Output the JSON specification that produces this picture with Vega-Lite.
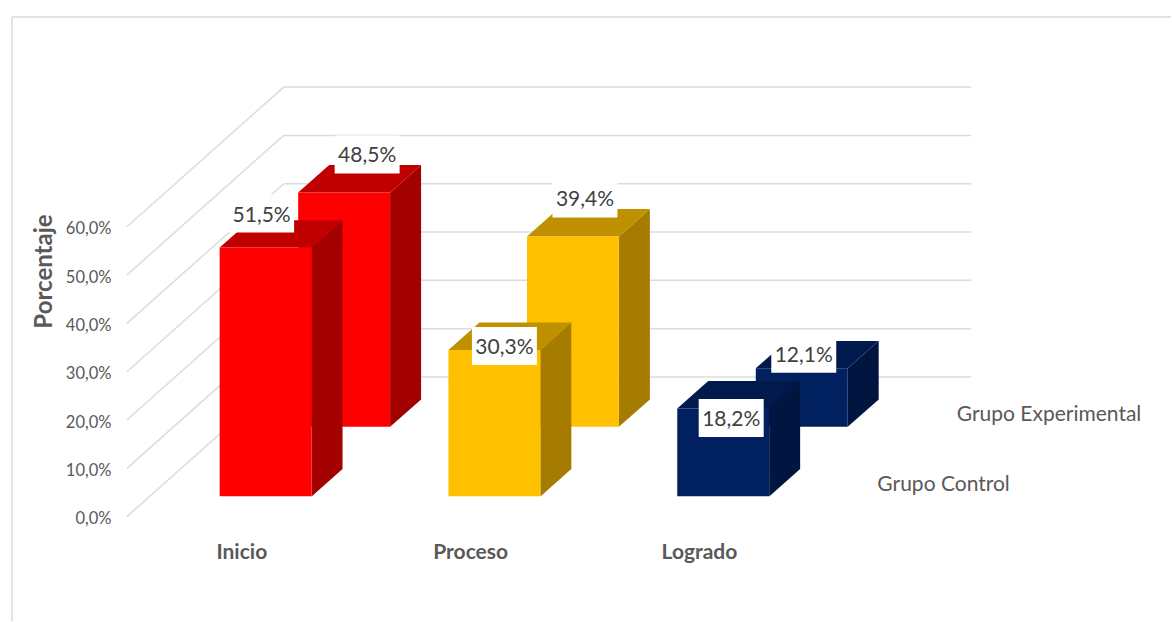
{"$schema":"https://vega.github.io/schema/vega-lite/v6.json","width":1172,"height":622,"padding":0,"autosize":{"type":"fit","contains":"padding"},"background":"white","config":{"view":{"stroke":null},"font":"Lato"},
"data":{"values":[
{"etapa":"Inicio","grupo":"Grupo Control","valor":51.5},
{"etapa":"Proceso","grupo":"Grupo Control","valor":30.3},
{"etapa":"Logrado","grupo":"Grupo Control","valor":18.2},
{"etapa":"Inicio","grupo":"Grupo Experimental","valor":48.5},
{"etapa":"Proceso","grupo":"Grupo Experimental","valor":39.4},
{"etapa":"Logrado","grupo":"Grupo Experimental","valor":12.1}]},
"transform":[
{"calculate":"indexof(['Inicio','Proceso','Logrado'],datum.etapa)","as":"i"},
{"calculate":"datum.grupo=='Grupo Control'?0:1","as":"d"},
{"calculate":"0.96+datum.i+0.3433*datum.d","as":"xl"},
{"calculate":"datum.xl+0.4017","as":"xr"},
{"calculate":"4.2+14.4*datum.d","as":"b"},
{"calculate":"datum.b+datum.valor","as":"t"},
{"calculate":"datum.xl+{'Inicio0':42,'Inicio1':69,'Proceso0':56,'Proceso1':58,'Logrado0':54,'Logrado1':48}[datum.etapa+datum.d]/229","as":"lx"},
{"calculate":"datum.t-{'Inicio0':-34,'Inicio1':-38,'Proceso0':-4,'Proceso1':-38,'Logrado0':9.5,'Logrado1':-14.5}[datum.etapa+datum.d]/4.84","as":"ly"},
{"calculate":"replace(format(datum.valor,'.1f'),'.',',')+'%'","as":"rotulo"}
],
"layer":[
{"data":{"values":[{"v":0},{"v":10},{"v":20},{"v":30},{"v":40},{"v":50},{"v":60}]},"transform":[{"calculate":"0.5546","as":"xa"},{"calculate":"1.24","as":"xb"},{"calculate":"4.245","as":"xc"},{"calculate":"datum.v+28.9","as":"vb"}],
"layer":[
{"mark":{"type":"rule","color":"#dcdcdc","strokeWidth":1.5},"encoding":{"x":{"field":"xa","type":"quantitative","scale":{"domain":[0,5.118],"nice":false,"zero":false},"axis":null},"x2":{"field":"xb"},"y":{"field":"v","type":"quantitative","scale":{"domain":[-21.59,106.92],"nice":false,"zero":false},"axis":{"orient":"left","offset":-111,"values":[0,10,20,30,40,50,60],"domain":false,"ticks":false,"grid":false,"labelPadding":0,"labelOffset":2,"labelFont":"Lato","labelFontSize":16.5,"labelColor":"#595959","labelExpr":"replace(format(datum.value,'.1f'),'.',',')+'%'","title":"Porcentaje","titleFont":"Lato","titleFontSize":24,"titleFontWeight":"bold","titleColor":"#595959","titleAngle":-90,"titleX":-55,"titleY":271}},"y2":{"field":"vb"}}},
{"mark":{"type":"rule","color":"#dcdcdc","strokeWidth":1.5},"encoding":{"x":{"field":"xb","type":"quantitative"},"x2":{"field":"xc"},"y":{"field":"vb","type":"quantitative"}}}
]},
{"data":{"values":[{"a":0.0524,"y":103.4,"y2":-21.59}]},"mark":{"type":"rule","color":"#d9d9d9","strokeWidth":1.5},"encoding":{"x":{"field":"a","type":"quantitative"},"y":{"field":"y","type":"quantitative"},"y2":{"field":"y2"}}},
{"data":{"values":[{"a":0.0524,"b":5.118,"y":103.4}]},"mark":{"type":"rule","color":"#d9d9d9","strokeWidth":1.5},"encoding":{"x":{"field":"a","type":"quantitative"},"x2":{"field":"b"},"y":{"field":"y","type":"quantitative"}}},
{"transform":[{"filter":"datum.d==1"},{"calculate":"datum.etapa+'-lado'","as":"k"},{"calculate":"[0,1]","as":"s"},{"flatten":["s"]},{"calculate":"datum.xr+datum.s*0.1354","as":"px"},{"calculate":"datum.b+datum.s*5.66","as":"p1"},{"calculate":"datum.t+datum.s*5.66","as":"p2"}],"mark":{"type":"area","orient":"vertical"},"encoding":{"x":{"field":"px","type":"quantitative"},"y":{"field":"p1","type":"quantitative","stack":null},"y2":{"field":"p2"},"detail":{"field":"etapa"},"color":{"field":"k","type":"nominal","legend":null,"scale":{"domain":["Inicio-frente","Inicio-arriba","Inicio-lado","Proceso-frente","Proceso-arriba","Proceso-lado","Logrado-frente","Logrado-arriba","Logrado-lado"],"range":["#ff0000","#c00000","#a30000","#ffc000","#bf9000","#a67c00","#002060","#001a4d","#00153f"]}}}},
{"transform":[{"filter":"datum.d==1"},{"calculate":"datum.etapa+'-arriba'","as":"k"},{"calculate":"[0,1,2,3]","as":"s"},{"flatten":["s"]},{"calculate":"datum.s==0?datum.xl:datum.s==1?datum.xl+0.1354:datum.s==2?datum.xr:datum.xr+0.1354","as":"px"},{"calculate":"datum.s==3?datum.t+5.66:datum.t","as":"p1"},{"calculate":"datum.s==0?datum.t:datum.t+5.66","as":"p2"}],"mark":{"type":"area","orient":"vertical"},"encoding":{"x":{"field":"px","type":"quantitative"},"y":{"field":"p1","type":"quantitative","stack":null},"y2":{"field":"p2"},"detail":{"field":"etapa"},"color":{"field":"k","type":"nominal","legend":null}}},
{"transform":[{"filter":"datum.d==1"},{"calculate":"datum.etapa+'-frente'","as":"k"}],"mark":{"type":"rect"},"encoding":{"x":{"field":"xl","type":"quantitative"},"x2":{"field":"xr"},"y":{"field":"b","type":"quantitative"},"y2":{"field":"t"},"color":{"field":"k","type":"nominal","legend":null}}},
{"transform":[{"filter":"datum.d==0"},{"calculate":"datum.etapa+'-lado'","as":"k"},{"calculate":"[0,1]","as":"s"},{"flatten":["s"]},{"calculate":"datum.xr+datum.s*0.1354","as":"px"},{"calculate":"datum.b+datum.s*5.66","as":"p1"},{"calculate":"datum.t+datum.s*5.66","as":"p2"}],"mark":{"type":"area","orient":"vertical"},"encoding":{"x":{"field":"px","type":"quantitative"},"y":{"field":"p1","type":"quantitative","stack":null},"y2":{"field":"p2"},"detail":{"field":"etapa"},"color":{"field":"k","type":"nominal","legend":null}}},
{"transform":[{"filter":"datum.d==0"},{"calculate":"datum.etapa+'-arriba'","as":"k"},{"calculate":"[0,1,2,3]","as":"s"},{"flatten":["s"]},{"calculate":"datum.s==0?datum.xl:datum.s==1?datum.xl+0.1354:datum.s==2?datum.xr:datum.xr+0.1354","as":"px"},{"calculate":"datum.s==3?datum.t+5.66:datum.t","as":"p1"},{"calculate":"datum.s==0?datum.t:datum.t+5.66","as":"p2"}],"mark":{"type":"area","orient":"vertical"},"encoding":{"x":{"field":"px","type":"quantitative"},"y":{"field":"p1","type":"quantitative","stack":null},"y2":{"field":"p2"},"detail":{"field":"etapa"},"color":{"field":"k","type":"nominal","legend":null}}},
{"transform":[{"filter":"datum.d==0"},{"calculate":"datum.etapa+'-frente'","as":"k"}],"mark":{"type":"rect"},"encoding":{"x":{"field":"xl","type":"quantitative"},"x2":{"field":"xr"},"y":{"field":"b","type":"quantitative"},"y2":{"field":"t"},"color":{"field":"k","type":"nominal","legend":null}}},
{"transform":[{"calculate":"datum.lx-0.142","as":"l1"},{"calculate":"datum.lx+0.142","as":"l2"},{"calculate":"datum.ly-3.93","as":"l3"},{"calculate":"datum.ly+3.93","as":"l4"}],"mark":{"type":"rect","fill":"white"},"encoding":{"x":{"field":"l1","type":"quantitative"},"x2":{"field":"l2"},"y":{"field":"l3","type":"quantitative"},"y2":{"field":"l4"}}},
{"mark":{"type":"text","font":"Lato","fontSize":21,"fill":"#404040","baseline":"middle","align":"center","dy":2},"encoding":{"x":{"field":"lx","type":"quantitative"},"y":{"field":"ly","type":"quantitative"},"text":{"field":"rotulo"}}},
{"transform":[{"filter":"datum.d==0"},{"calculate":"datum.i+1.057","as":"cx"},{"calculate":"-7.13","as":"cy"}],"mark":{"type":"text","font":"Lato","fontSize":21,"fontWeight":"bold","fill":"#595959","baseline":"middle","align":"center","dy":2},"encoding":{"x":{"field":"cx","type":"quantitative"},"y":{"field":"cy","type":"quantitative"},"text":{"field":"etapa"}}},
{"transform":[{"filter":"datum.etapa=='Logrado'"},{"calculate":"4.124+0.461*datum.d","as":"gx"},{"calculate":"7.07+14.33*datum.d","as":"gy"}],"mark":{"type":"text","font":"Lato","fontSize":21,"fill":"#595959","baseline":"middle","align":"center","dy":2},"encoding":{"x":{"field":"gx","type":"quantitative"},"y":{"field":"gy","type":"quantitative"},"text":{"field":"grupo"}}}
]}
